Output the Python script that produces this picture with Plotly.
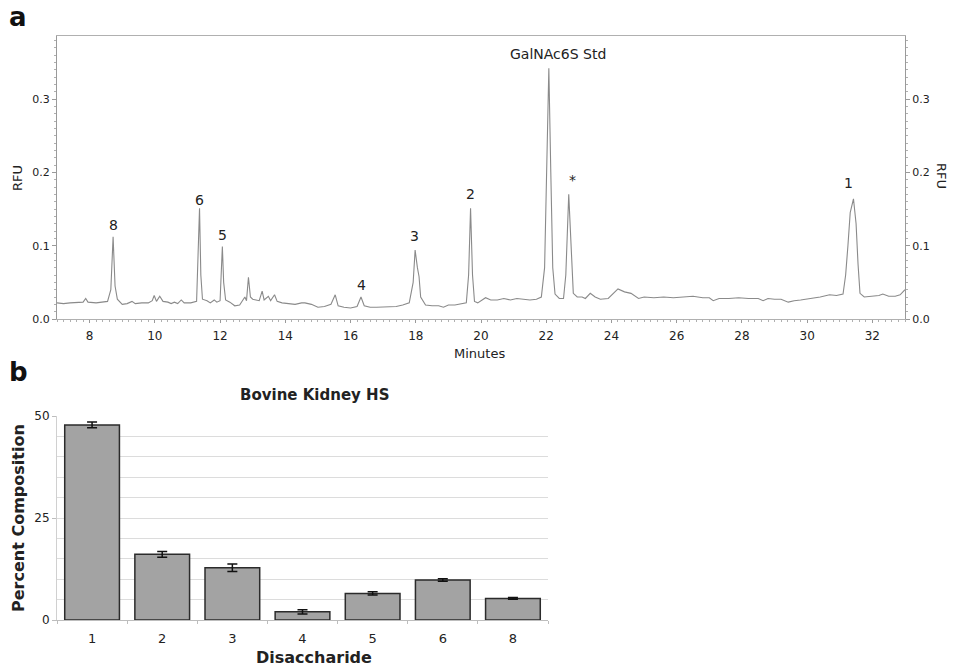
import plotly.graph_objects as go

# ---- Panel a: chromatogram ----
minutes = [7.00, 7.2, 7.4, 7.6, 7.8, 7.88, 7.95, 8.2, 8.4, 8.55, 8.65, 8.72, 8.78, 8.85, 9.0, 9.15, 9.3, 9.4,
           9.6, 9.8, 9.92, 9.98, 10.05, 10.15, 10.25, 10.4, 10.5, 10.6, 10.7, 10.81, 10.9, 11.1, 11.28, 11.33,
           11.37, 11.41, 11.46, 11.6, 11.7, 11.82, 11.9, 12.0, 12.04, 12.07, 12.11, 12.17, 12.3, 12.45, 12.6,
           12.72, 12.76, 12.81, 12.87, 12.93, 13.0, 13.1, 13.2, 13.29, 13.35, 13.48, 13.55, 13.67, 13.75, 13.9,
           14.1, 14.3, 14.5, 14.6, 14.8, 15.0, 15.2, 15.4, 15.53, 15.62, 15.8, 16.0, 16.2, 16.32, 16.42, 16.6,
           16.8, 17.0, 17.2, 17.4, 17.6, 17.8, 17.92, 17.98, 18.05, 18.1, 18.15, 18.3, 18.5, 18.7, 18.85, 19.0,
           19.2, 19.4, 19.55, 19.62, 19.68, 19.74, 19.8, 19.9, 20.0, 20.14, 20.3, 20.5, 20.7, 20.9, 21.1, 21.3,
           21.5, 21.7, 21.85, 21.95, 22.0, 22.08, 22.14, 22.2, 22.27, 22.4, 22.53, 22.6, 22.69, 22.76, 22.83,
           22.95, 23.1, 23.2, 23.35, 23.5, 23.66, 23.9, 24.05, 24.2, 24.4, 24.6, 24.83, 25.0, 25.3, 25.6, 25.9,
           26.2, 26.5, 26.8, 27.0, 27.12, 27.3, 27.6, 27.9, 28.2, 28.5, 28.65, 28.8, 29.0, 29.2, 29.42, 29.6,
           29.8, 30.0, 30.2, 30.4, 30.69, 30.9, 31.1, 31.18, 31.25, 31.32, 31.42, 31.5, 31.56, 31.62, 31.75,
           32.0, 32.2, 32.32, 32.5, 32.7, 32.85, 33.0]
rfu = [0.022, 0.021, 0.022, 0.022, 0.023, 0.028, 0.023, 0.022, 0.023, 0.024, 0.040, 0.112, 0.045, 0.027, 0.020,
       0.021, 0.024, 0.021, 0.022, 0.022, 0.025, 0.032, 0.024, 0.031, 0.024, 0.023, 0.021, 0.023, 0.021, 0.026,
       0.022, 0.022, 0.024, 0.090, 0.151, 0.060, 0.027, 0.025, 0.022, 0.026, 0.023, 0.025, 0.070, 0.099, 0.050,
       0.026, 0.023, 0.018, 0.019, 0.026, 0.030, 0.025, 0.057, 0.030, 0.027, 0.026, 0.025, 0.038, 0.026, 0.031,
       0.025, 0.033, 0.024, 0.022, 0.021, 0.020, 0.022, 0.022, 0.020, 0.016, 0.017, 0.020, 0.033, 0.018, 0.016,
       0.015, 0.017, 0.030, 0.018, 0.016, 0.016, 0.016, 0.017, 0.017, 0.019, 0.022, 0.050, 0.094, 0.070, 0.058,
       0.030, 0.019, 0.018, 0.018, 0.016, 0.019, 0.019, 0.021, 0.022, 0.060, 0.151, 0.060, 0.024, 0.022, 0.025,
       0.029, 0.026, 0.026, 0.028, 0.026, 0.028, 0.027, 0.026, 0.027, 0.030, 0.070, 0.170, 0.342, 0.200, 0.070,
       0.034, 0.028, 0.028, 0.060, 0.170, 0.090, 0.035, 0.030, 0.030, 0.028, 0.035, 0.030, 0.027, 0.028, 0.035,
       0.041, 0.037, 0.035, 0.028, 0.030, 0.029, 0.030, 0.029, 0.030, 0.031, 0.029, 0.029, 0.025, 0.028, 0.028,
       0.029, 0.028, 0.028, 0.025, 0.028, 0.027, 0.027, 0.023, 0.025, 0.026, 0.027, 0.028, 0.030, 0.033, 0.032,
       0.034, 0.060, 0.100, 0.145, 0.164, 0.130, 0.075, 0.035, 0.030, 0.031, 0.032, 0.034, 0.031, 0.031, 0.033,
       0.040]

peak_labels = ["8", "6", "5", "4", "3", "2", "GalNAc6S Std", "*", "1"]
peak_label_x = [8.74, 11.38, 12.07, 16.35, 17.95, 19.67, 22.35, 22.81, 31.28]
peak_label_y = [0.128, 0.162, 0.114, 0.046, 0.113, 0.170, 0.361, 0.190, 0.185]

# ---- Panel b: composition ----
disaccharides = ["1", "2", "3", "4", "5", "6", "8"]
percent = [47.8, 16.1, 12.8, 2.0, 6.5, 9.8, 5.3]
percent_err = [0.7, 0.7, 0.9, 0.5, 0.4, 0.3, 0.2]

FONT = "DejaVu Sans, Arial, sans-serif"
TXT = "#222222"
AX = "#9a9a9a"

W, H = 953, 666
def px(x):
    return x / W
def py(y):
    return 1 - y / H

fig = go.Figure()

fig.add_trace(go.Scatter(x=minutes, y=rfu, mode="lines", line=dict(color="#8a8a8a", width=1.1),
                         xaxis="x", yaxis="y", showlegend=False, hoverinfo="skip"))
# invisible trace to activate right axis
fig.add_trace(go.Scatter(x=[minutes[0]], y=[rfu[0]], mode="lines", line=dict(width=0),
                         xaxis="x", yaxis="y2", showlegend=False, hoverinfo="skip"))

fig.add_trace(go.Bar(x=disaccharides, y=percent, xaxis="x2", yaxis="y3",
                     marker=dict(color="#a3a3a3", line=dict(color="#2b2b2b", width=1.5)),
                     error_y=dict(type="data", array=percent_err, color="#111111", thickness=1.5, width=5),
                     showlegend=False))

yr_top = [0, 0.386]
fig.update_layout(
    width=W, height=H,
    margin=dict(l=0, r=0, t=0, b=0, autoexpand=False),
    paper_bgcolor="white", plot_bgcolor="white",
    font=dict(family=FONT, color=TXT),
    bargap=0.22,
    xaxis=dict(domain=[px(57), px(905)], range=[7, 33], anchor="y",
               showline=True, linecolor="#b0b0b0", linewidth=1, mirror=True,
               ticks="outside", ticklen=3, tickcolor=AX, dtick=2, tick0=8,
               ticklabelstandoff=3,
               tickfont=dict(size=12, color=TXT), showgrid=False, zeroline=False,
               minor=dict(dtick=0.2, ticks="outside", ticklen=2, tickcolor="#b0b0b0")),
    yaxis=dict(domain=[py(319), py(36)], range=yr_top, anchor="x",
               showline=True, linecolor=AX, linewidth=1,
               ticks="outside", ticklen=4, tickcolor=AX, dtick=0.1, tickformat=".1f",
               tickfont=dict(size=11, color=TXT), showgrid=False, zeroline=False,
               minor=dict(dtick=0.01, ticks="outside", ticklen=2, tickcolor="#b0b0b0")),
    yaxis2=dict(range=yr_top, overlaying="y", side="right", anchor="x",
                showline=True, linecolor=AX, linewidth=1,
                ticks="outside", ticklen=4, tickcolor=AX, dtick=0.1, tickformat=".1f",
                tickfont=dict(size=11, color=TXT), showgrid=False, zeroline=False,
                minor=dict(dtick=0.01, ticks="outside", ticklen=2, tickcolor="#b0b0b0")),
    xaxis2=dict(domain=[px(57), px(548)], anchor="y3", type="category",
                showline=True, linecolor="#bdbdbd", linewidth=1,
                ticks="outside", ticklen=3, tickcolor="#bdbdbd", tickson="boundaries",
                ticklabelstandoff=6,
                tickfont=dict(size=13, color=TXT), showgrid=False),
    yaxis3=dict(domain=[py(620), py(416)], range=[0, 50], anchor="x2",
                showline=True, linecolor="#d0d0d0", linewidth=1,
                ticks="outside", ticklen=4, tickcolor="#bdbdbd",
                tickvals=[0, 25, 50], tickfont=dict(size=12, color=TXT),
                showgrid=True, gridcolor="#dcdcdc", gridwidth=1, zeroline=False,
                minor=dict(dtick=5, showgrid=True, gridcolor="#dcdcdc", gridwidth=1)),
)

ann = []
for t, xv, yv in zip(peak_labels, peak_label_x, peak_label_y):
    ann.append(dict(x=xv, y=yv, xref="x", yref="y", text=t, showarrow=False,
                    xanchor="center", yanchor="middle",
                    font=dict(size=14, color=TXT)))

def pa(xp, yp, text, size, angle=0, color=TXT):
    return dict(x=px(xp), y=py(yp), xref="paper", yref="paper", text=text, textangle=angle,
                showarrow=False, xanchor="center", yanchor="middle",
                font=dict(size=size, color=color))

ann += [
    pa(18, 17, "<b>a</b>", 26, color="#111"),
    pa(18, 372, "<b>b</b>", 26, color="#111"),
    pa(17, 178, "RFU", 13, -90),
    pa(942, 176, "RFU", 13, 90),
    pa(480, 353, "Minutes", 13),
    pa(314, 395, "<b>Bovine Kidney HS</b>", 15),
    pa(18, 518, "<b>Percent Composition</b>", 16, -90),
    pa(314, 657, "<b>Disaccharide</b>", 16),
]
fig.update_layout(annotations=ann)

fig.write_html("out.html")
